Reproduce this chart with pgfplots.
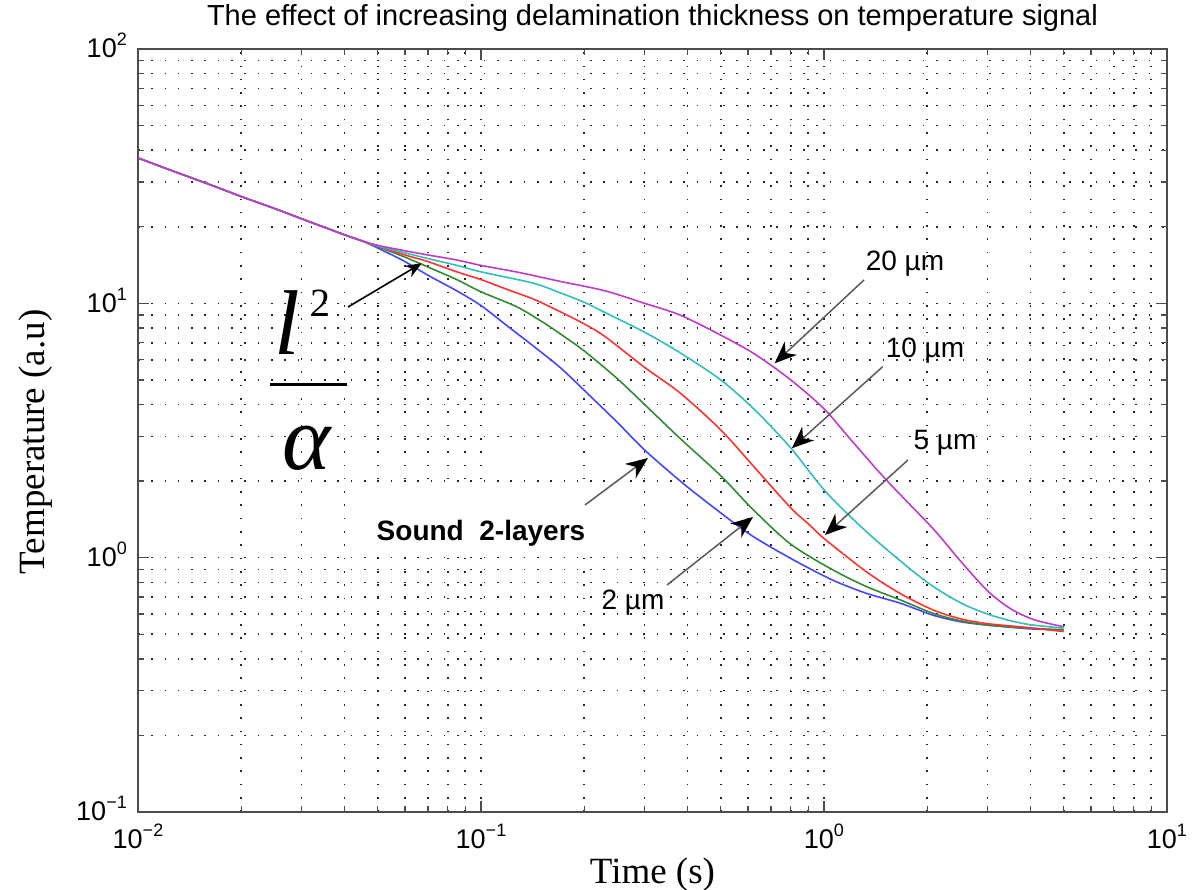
\documentclass[border=0pt]{standalone}
\usepackage{fontspec}
\setmainfont{Liberation Serif}
\newfontfamily\arial{Liberation Sans}
\usepackage{pgfplots}
\pgfplotsset{compat=1.18}
\usetikzlibrary{arrows.meta}

\definecolor{mblue}{RGB}{70,70,255}
\definecolor{mgreen}{RGB}{50,140,50}
\definecolor{mred}{RGB}{255,50,50}
\definecolor{mcyan}{RGB}{50,190,190}
\definecolor{mmag}{RGB}{190,60,200}
\definecolor{arrgray}{RGB}{90,90,90}

\newcommand{\tl}[1]{10\raisebox{12pt}{\fontsize{18}{18}\selectfont #1}}

\begin{document}
\begin{tikzpicture}
\path[use as bounding box] (-138pt,-78pt) rectangle (1065pt,812pt);
\begin{axis}[
    scale only axis,
    width=1029pt, height=763pt,
    xmode=log, ymode=log,
    xmin=0.01, xmax=10, ymin=0.1, ymax=100,
    xtick={0.01,0.1,1,10}, ytick={0.1,1,10,100},
    xticklabels={\tl{−2},\tl{−1},\tl{0},\tl{1}},
    yticklabels={\tl{−1},\tl{0},\tl{1},\tl{2}},
    xticklabel style={font=\arial\fontsize{27}{27}\selectfont, anchor=base, inner sep=0pt, yshift=-37pt},
    yticklabel style={font=\arial\fontsize{27}{27}\selectfont, anchor=base east, inner sep=0pt, xshift=-11pt, yshift=-9pt},
    grid=both,
    major grid style={black!85, line width=1.6pt, dash pattern=on 1.6pt off 11.7pt},
    minor grid style={black!85, line width=1.6pt, dash pattern=on 1.6pt off 11.7pt},
    tick align=inside,
    major tick length=11pt, minor tick length=6pt,
    tick style={black!70, line width=1.3pt},
    axis line style={black!70, line width=1.6pt},
    every axis plot/.append style={smooth, tension=0.5, line width=1.6pt},
    title={The effect of increasing delamination thickness on temperature signal},
    title style={font=\arial\fontsize{29}{29}\selectfont, at={(axis description cs:0.5,1)}, anchor=base, yshift=17pt},
    xlabel={Time (s)},
    xlabel style={font=\fontsize{37}{37}\selectfont, at={(axis description cs:0.5,0)}, anchor=base, yshift=-72pt},
    ylabel={Temperature (a.u)},
    ylabel style={font=\fontsize{37}{37}\selectfont, at={(axis description cs:-0.0913,0.485)}, anchor=base},
]
% sound 2-layers
\addplot[mblue] coordinates {
(0.01,37.3) (0.012,34.0) (0.014,31.5) (0.017,28.6) (0.02,26.3) (0.025,23.6) (0.03,21.5) (0.035,19.9) (0.04,18.6) (0.045,17.6)
(0.05,16.5) (0.06,14.6) (0.07,12.9) (0.085,11.2) (0.1,9.8) (0.12,8.1) (0.14,6.9) (0.17,5.6) (0.2,4.55) (0.25,3.4) (0.3,2.65)
(0.39,1.95) (0.5,1.5) (0.6,1.25) (0.7,1.1) (0.85,0.95) (1.06,0.816) (1.33,0.724) (1.67,0.662) (2.08,0.594) (2.5,0.56) (3,0.543) (4,0.525) (5,0.52)};
% 2 um
\addplot[mgreen] coordinates {
(0.01,37.3) (0.012,34.0) (0.014,31.5) (0.017,28.6) (0.02,26.3) (0.025,23.6) (0.03,21.5) (0.035,19.9) (0.04,18.6) (0.045,17.6)
(0.05,16.7) (0.06,15.2) (0.07,13.9) (0.085,12.4) (0.1,11.1) (0.127,9.7) (0.15,8.5) (0.17,7.6) (0.2,6.5) (0.25,5.05) (0.3,4.0)
(0.38,2.95) (0.5,2.1) (0.62,1.55) (0.8,1.13) (1.06,0.896) (1.33,0.77) (1.67,0.682) (2.08,0.604) (2.5,0.565) (3,0.543) (4,0.528) (5,0.52)};
% 5 um
\addplot[mred] coordinates {
(0.01,37.3) (0.012,34.0) (0.014,31.5) (0.017,28.6) (0.02,26.3) (0.025,23.6) (0.03,21.5) (0.035,19.9) (0.04,18.6) (0.045,17.6)
(0.05,16.8) (0.06,15.5) (0.07,14.6) (0.085,13.3) (0.1,12.4) (0.12,11.3) (0.142,10.4) (0.17,9.28) (0.2,8.3) (0.23,7.4) (0.3,5.6)
(0.38,4.45) (0.5,3.18) (0.63,2.25) (0.8,1.57) (0.9,1.36) (1.0,1.19) (1.33,0.88) (1.665,0.724) (2.08,0.623) (2.5,0.575) (3,0.55) (4,0.53) (5,0.512)};
% 10 um
\addplot[mcyan] coordinates {
(0.01,37.3) (0.012,34.0) (0.014,31.5) (0.017,28.6) (0.02,26.3) (0.025,23.6) (0.03,21.5) (0.035,19.9) (0.04,18.6) (0.045,17.6)
(0.05,16.8) (0.06,15.8) (0.07,15.0) (0.085,14.1) (0.1,13.3) (0.142,12.0) (0.17,11.0) (0.2,10.1) (0.23,9.2) (0.3,7.7)
(0.38,6.4) (0.5,5.0) (0.63,3.8) (0.8,2.7) (1.0,1.85) (1.22,1.41) (1.49,1.105) (2.0,0.8) (2.5,0.665) (3.0,0.6) (3.5,0.565) (4.0,0.545) (5.0,0.528)};
% 20 um
\addplot[mmag] coordinates {
(0.01,37.3) (0.012,34.0) (0.014,31.5) (0.017,28.6) (0.02,26.3) (0.025,23.6) (0.03,21.5) (0.035,19.9) (0.04,18.6) (0.045,17.6)
(0.05,16.9) (0.06,16.1) (0.07,15.5) (0.085,14.8) (0.1,14.1) (0.13,13.2) (0.17,12.2) (0.23,11.2) (0.3,10.0) (0.38,9.0)
(0.5,7.5) (0.63,6.3) (0.8,5.0) (1.0,3.85) (1.2,2.9) (1.52,2.02) (2.08,1.3) (2.5,0.97) (3.0,0.74) (3.5,0.63) (4.1,0.57) (5.0,0.535)};
\end{axis}
\begin{scope}[x=1pt, y=1pt]
% l^2 / alpha
\node[anchor=base, inner sep=0pt, font=\fontsize{92}{92}\selectfont\itshape] at (149,457) {l};
\node[anchor=base, inner sep=0pt, font=\fontsize{40}{40}\selectfont] at (182,495) {2};
\draw[line width=3pt] (132,427) -- (209,427);
\node[anchor=base, inner sep=0pt, font=\fontsize{92}{92}\selectfont\itshape] at (169,342) {α};
\draw[line width=1.6pt, -{Stealth[length=16pt, width=13pt, inset=5pt]}] (210,505) -- (283.7,548.7);
% sound
\fill[white] (222,260) rectangle (482,324);
\node[font=\arial\bfseries\fontsize{28}{28}\selectfont, inner sep=0pt] at (343,279) {Sound\ \ 2-layers};
\draw[arrgray, line width=1.5pt, -{Stealth[length=22pt, width=18pt, inset=7pt, black]}] (447,307) -- (510,354);
% 2 um
\node[font=\arial\fontsize{28}{28}\selectfont, inner sep=0pt] at (495,209) {2 µm};
\draw[arrgray, line width=1.5pt, -{Stealth[length=22pt, width=18pt, inset=7pt, black]}] (529,227) -- (615,295);
% 20 um
\node[font=\arial\fontsize{28}{28}\selectfont, inner sep=0pt] at (767,548) {20 µm};
\draw[arrgray, line width=1.5pt, -{Stealth[length=22pt, width=18pt, inset=7pt, black]}] (726,532) -- (636.7,448.7);
% 10 um
\node[font=\arial\fontsize{28}{28}\selectfont, inner sep=0pt] at (787,461) {10 µm};
\draw[arrgray, line width=1.5pt, -{Stealth[length=22pt, width=18pt, inset=7pt, black]}] (744.7,445.3) -- (653.8,363.7);
% 5 um
\node[font=\arial\fontsize{28}{28}\selectfont, inner sep=0pt] at (807,369) {5 µm};
\draw[arrgray, line width=1.5pt, -{Stealth[length=22pt, width=18pt, inset=7pt, black]}] (770,352) -- (687,277);
\end{scope}
\end{tikzpicture}
\end{document}
